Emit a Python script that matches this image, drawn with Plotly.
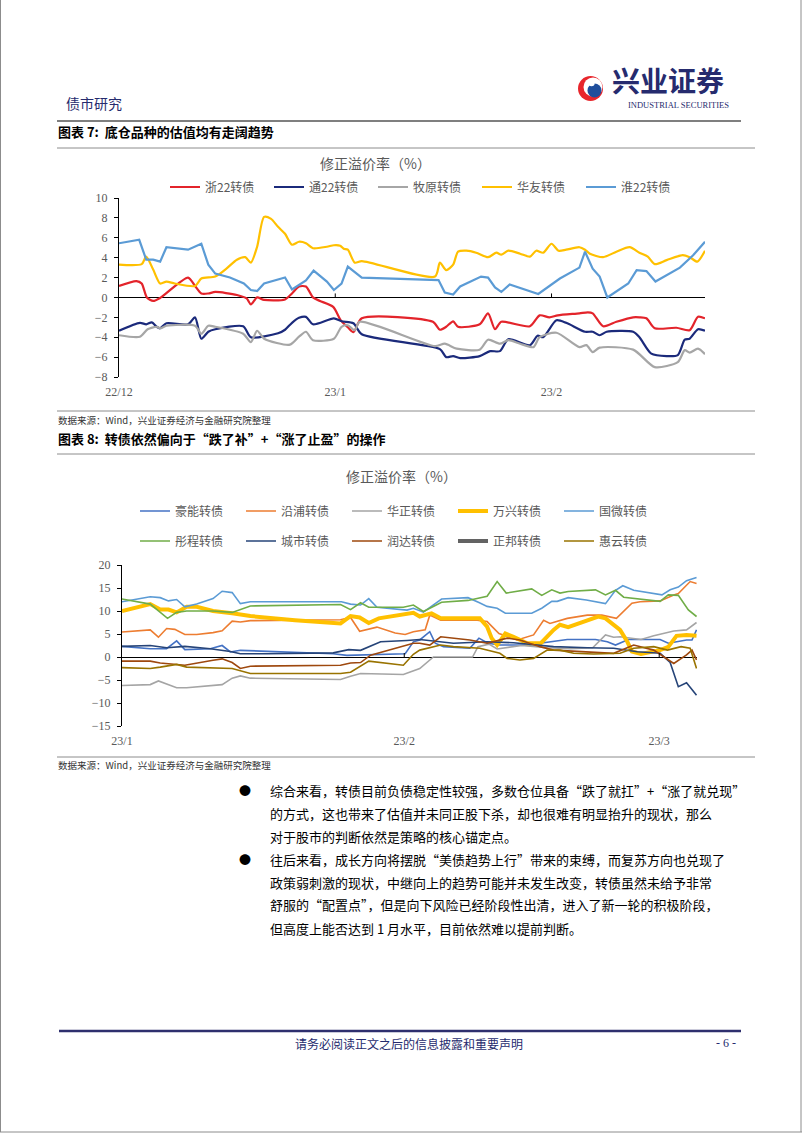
import pandas as pd
import plotly.graph_objects as go

W, H = 802, 1133
CJK = "Noto Sans CJK SC"
SERIF = "Liberation Serif"
GREY = "#595959"
NAVY = "#262B6E"


def X(px):
    return px / W


def Y(py):
    return 1 - py / H


# ---------------- Chart 7 data: days since 2022-12-01, 修正溢价率 (%) ----------------
c1_start = "2022-12-01"
c1_end_day = 84.0
c1_tickvals = ["2022-12-01", "2023-01-01", "2023-02-01"]
c1_ticktext = ["22/12", "23/1", "23/2"]
c1_names = ["浙22转债", "通22转债", "牧原转债", "华友转债", "淮22转债"]
c1_colors = ["#E3242B", "#1B2A7B", "#A6A6A6", "#FFC000", "#5B9BD5"]

zhe22_days = [0, 2.5, 3.25, 4.0, 4.9, 5.9, 9.9, 10.9, 11.8, 12.8, 13.8, 16.9, 18.3, 18.9, 19.8, 20.8, 23.8, 24.8,
              25.8, 26.8, 27.8, 28.8, 30.7, 31.8, 32.8, 33.6, 34.8, 45.0, 46.0, 46.9, 47.9, 48.6, 51.7, 52.9, 53.9,
              54.8, 58.9, 60.3, 61.7, 62.9, 66.0, 67.2, 67.9, 69.4, 71.3, 73.7, 74.6, 75.6, 76.8, 79.9, 81.8, 83.0, 84.0]
zhe22_vals = [1.15, 1.65, 1.4, 0.0, -0.35, -0.05, 2.0, 1.15, 0.4, 0.4, 0.55, 0.25, -0.1, -0.7, 0.0, -0.25, -0.2, 0.4,
              1.1, 1.1, 0.0, -0.35, -0.95, -2.3, -3.0, -3.5, -2.1, -2.45, -3.25, -2.95, -2.4, -2.95, -2.7, -1.6, -3.2,
              -2.45, -2.9, -1.8, -2.0, -1.8, -1.6, -1.5, -1.6, -2.9, -2.45, -2.0, -2.0, -2.1, -3.1, -3.05, -3.3, -1.95, -2.1]

tong22_days = [0, 3.0, 3.9, 4.7, 5.4, 5.9, 6.8, 9.9, 10.9, 11.8, 12.8, 13.8, 17.8, 18.9, 22.8, 23.8, 24.8, 25.8,
               26.8, 27.8, 30.8, 31.9, 33.6, 34.8, 46.0, 46.9, 47.9, 48.9, 51.7, 53.2, 54.6, 55.8, 58.9, 60.0, 60.8,
               62.7, 64.1, 66.8, 67.9, 68.9, 69.9, 73.7, 74.6, 76.3, 78.5, 80.1, 81.1, 81.8, 83.0, 84.0]
tong22_vals = [-3.35, -2.55, -2.7, -2.5, -2.95, -3.1, -2.6, -2.7, -2.0, -4.15, -3.45, -3.2, -2.9, -4.0, -3.6, -3.25,
               -2.55, -2.05, -1.95, -2.7, -2.1, -2.4, -2.6, -3.7, -5.2, -6.0, -5.9, -6.1, -5.9, -5.4, -5.4, -4.2, -4.8,
               -3.85, -4.0, -2.3, -2.55, -3.45, -3.45, -3.8, -3.45, -3.45, -4.0, -5.65, -5.9, -5.8, -4.25, -4.15, -3.2, -3.35]

muyuan_days = [0, 3.0, 4.1, 5.4, 5.9, 6.8, 10.9, 11.8, 12.8, 13.8, 17.8, 18.9, 19.8, 20.8, 24.5, 25.8, 26.8, 27.8,
               30.8, 31.9, 32.8, 33.8, 34.5, 45.3, 46.7, 48.4, 51.7, 52.9, 54.6, 55.8, 57.5, 59.4, 60.3, 62.7, 66.0,
               67.0, 67.9, 68.9, 73.7, 76.8, 80.1, 81.1, 81.8, 83.0, 84.0]
muyuan_vals = [-3.8, -3.95, -3.2, -2.95, -3.1, -2.85, -2.85, -3.65, -2.85, -2.95, -3.65, -4.5, -3.35, -4.15, -4.75,
               -3.95, -3.45, -4.3, -4.15, -2.95, -2.8, -3.3, -2.45, -4.9, -4.65, -5.15, -5.25, -4.25, -4.65, -4.3, -4.65,
               -5.0, -4.0, -3.55, -5.0, -4.8, -5.5, -5.05, -5.25, -7.0, -6.5, -5.3, -5.55, -5.15, -5.7]

huayou_days = [0, 3.25, 3.9, 4.9, 5.9, 6.8, 8.0, 10.9, 11.8, 13.8, 15.4, 16.9, 18.1, 18.9, 19.8, 20.8, 21.8, 22.8,
               23.8, 24.8, 25.8, 26.8, 27.8, 29.8, 30.8, 31.7, 32.2, 32.8, 33.8, 34.8, 45.3, 46.0, 46.9, 47.9, 48.6,
               49.8, 51.2, 52.9, 54.1, 54.8, 55.8, 57.5, 58.9, 59.8, 60.8, 62.0, 63.0, 64.1, 66.0, 66.8, 67.5, 69.4,
               71.3, 73.2, 74.6, 75.8, 76.8, 78.5, 80.8, 81.8, 82.9, 84.0]
huayou_vals = [3.3, 3.35, 4.1, 2.8, 1.4, 1.6, 1.4, 1.15, 1.9, 2.1, 2.9, 3.8, 4.05, 3.5, 5.1, 8.1, 7.9, 7.1, 6.4, 5.3,
               5.6, 5.45, 4.95, 5.1, 5.25, 5.2, 4.9, 4.8, 3.5, 3.65, 2.1, 3.5, 2.75, 3.3, 4.6, 4.7, 4.5, 4.05, 4.5, 4.3,
               4.7, 4.4, 4.1, 4.7, 4.5, 5.4, 4.7, 4.8, 5.05, 4.8, 4.4, 4.05, 4.6, 5.05, 4.5, 4.1, 3.35, 3.75, 4.25,
               4.05, 3.6, 4.7]

huai22_days = [0, 2.9, 3.9, 4.9, 5.9, 6.8, 9.9, 11.8, 12.8, 13.8, 15.9, 17.9, 18.9, 19.8, 20.8, 23.8, 24.8, 26.8,
               27.9, 29.8, 30.8, 31.9, 32.8, 34.8, 45.8, 46.7, 47.9, 48.9, 51.9, 52.9, 53.9, 54.8, 56.0, 59.6, 60.1,
               63.2, 66.0, 66.8, 67.9, 68.9, 70.0, 73.0, 74.2, 75.6, 76.9, 80.4, 82.3, 84.0]
huai22_vals = [5.45, 5.8, 3.8, 3.8, 3.6, 5.05, 4.8, 5.4, 3.3, 2.4, 2.0, 1.4, 0.75, 0.65, 1.4, 2.0, 0.8, 1.7, 2.7, 1.6,
               0.75, 1.4, 3.1, 2.0, 1.75, 0.5, 0.3, 1.1, 2.1, 2.0, 1.0, 0.55, 1.3, 0.4, 0.35, 1.9, 3.0, 4.6, 2.9, 2.1,
               0.0, 1.4, 2.75, 2.65, 1.6, 3.0, 4.25, 5.6]

c1_series = [(zhe22_days, zhe22_vals, "spline"), (tong22_days, tong22_vals, "spline"),
             (muyuan_days, muyuan_vals, "spline"), (huayou_days, huayou_vals, "spline"),
             (huai22_days, huai22_vals, "linear")]

# ---------------- Chart 8 data: days since 2023-01-01, 修正溢价率 (%) ----------------
c2_start = "2023-01-01"
c2_end_day = 63.15
c2_tickvals = ["2023-01-01", "2023-02-01", "2023-03-01"]
c2_ticktext = ["23/1", "23/2", "23/3"]
c2_names = ["豪能转债", "沿浦转债", "华正转债", "万兴转债", "国微转债",
            "彤程转债", "城市转债", "润达转债", "正邦转债", "惠云转债"]
c2_colors = ["#4472C4", "#ED7D31", "#A5A5A5", "#FFC000", "#5B9BD5",
             "#70AD47", "#264478", "#9E480E", "#636363", "#997300"]
c2_widths = [1.6, 1.6, 1.6, 4, 1.6, 1.6, 1.6, 1.6, 4, 1.6]

haoneng_days = [0, 3.1, 4.9, 6.0, 6.9, 9.7, 11.0, 11.9, 13.0, 15.9, 23.2, 24.7, 28.0, 31.1, 32.0, 32.7, 33.8, 34.4,
                35.3, 38.2, 39.2, 40.2, 41.5, 44.8, 46.3, 48.9, 52.0, 53.3, 54.2, 55.6, 59.1, 60.0, 62.0, 62.6, 63.1]
haoneng_vals = [2.3, 1.8, 1.8, 3.5, 1.6, 1.8, 2.5, 1.1, 1.45, 1.2, 0.7, 0.35, 0.6, 0.7, 3.3, 3.7, 5.5, 3.0, 2.25, 1.9,
                4.1, 3.0, 2.6, 2.6, 3.1, 3.8, 3.8, 3.3, 2.6, 3.8, 3.8, 3.0, 3.7, 3.7, 5.9]

yanpu_days = [0, 3.1, 4.0, 4.9, 5.8, 6.9, 8.2, 10.0, 11.0, 12.1, 13.0, 14.1, 24.0, 25.1, 26.1, 27.1, 28.0, 30.0, 31.1,
              32.0, 33.3, 33.8, 35.0, 39.0, 40.1, 41.4, 43.4, 45.2, 46.3, 47.0, 48.9, 51.1, 52.7, 54.3, 56.0, 56.9,
              59.1, 60.6, 61.1, 62.4, 63.1]
yanpu_vals = [5.45, 5.9, 4.3, 6.2, 6.0, 4.9, 4.9, 5.3, 5.7, 7.8, 7.6, 7.9, 8.1, 8.6, 5.6, 6.1, 6.5, 5.2, 4.9, 5.5, 5.9,
              9.1, 8.0, 8.0, 7.7, 5.1, 3.7, 4.8, 8.0, 7.3, 8.4, 9.1, 9.1, 8.4, 11.7, 12.0, 12.2, 13.5, 13.8, 16.4, 16.0]

huazheng_days = [0, 3.1, 4.0, 6.0, 7.1, 10.0, 11.0, 12.1, 13.0, 14.1, 24.0, 25.1, 26.2, 30.9, 32.0, 32.7, 34.2, 38.5,
                 39.1, 40.3, 41.2, 43.9, 46.7, 49.2, 51.7, 53.1, 54.0, 54.7, 57.0, 58.4, 60.6, 62.0, 63.1]
huazheng_vals = [-6.2, -6.0, -5.2, -6.7, -6.7, -6.2, -6.0, -4.6, -4.1, -4.6, -4.9, -4.2, -3.6, -3.8, -2.9, -2.5, 0.0,
                 0.0, 2.25, 2.8, 1.75, 2.5, 2.0, 1.8, 2.0, 4.8, 4.3, 4.4, 3.8, 4.6, 5.65, 5.9, 7.5]

wanxing_days = [0, 3.1, 4.2, 5.1, 6.0, 7.1, 8.2, 10.0, 12.1, 14.1, 19.0, 24.0, 25.1, 26.1, 27.1, 28.2, 32.0, 32.7,
                34.0, 35.0, 39.3, 40.1, 40.6, 41.2, 42.1, 43.0, 44.5, 46.0, 47.4, 48.1, 49.0, 52.3, 53.1, 54.7, 55.5,
                56.0, 57.0, 59.1, 60.0, 60.9, 62.0, 63.1]
wanxing_vals = [10.0, 11.5, 10.3, 10.3, 9.7, 10.9, 10.9, 10.0, 9.5, 8.9, 8.0, 7.3, 8.9, 8.6, 7.4, 8.4, 9.6, 8.8, 9.5,
                8.4, 8.4, 6.6, 4.1, 2.6, 5.1, 4.4, 3.0, 3.0, 5.9, 7.0, 6.5, 8.8, 8.4, 5.9, 3.3, 1.2, 0.65, 1.5, 2.2,
                4.6, 4.8, 4.6]

guowei_days = [0, 3.1, 4.2, 5.1, 6.0, 6.9, 8.2, 10.0, 11.0, 12.1, 13.0, 14.1, 24.1, 25.1, 26.2, 27.1, 28.0, 31.3,
               32.0, 33.1, 35.1, 38.0, 39.2, 40.1, 41.2, 42.1, 45.0, 46.1, 47.2, 47.8, 49.0, 51.0, 53.1, 54.2, 55.0,
               56.2, 59.3, 60.2, 61.1, 62.0, 63.1]
guowei_vals = [12.0, 13.1, 12.9, 12.2, 12.5, 10.9, 11.5, 12.7, 14.3, 14.0, 11.6, 12.0, 12.0, 11.5, 11.3, 12.7, 10.8,
               10.2, 10.6, 9.75, 12.6, 12.9, 11.85, 11.0, 10.6, 9.5, 9.5, 10.6, 12.1, 12.1, 12.9, 12.4, 11.6, 14.5,
               15.5, 14.5, 13.5, 14.6, 15.2, 16.6, 17.3]

tongcheng_days = [0, 3.1, 5.0, 6.0, 7.1, 10.0, 12.1, 14.1, 24.0, 25.1, 26.2, 27.1, 30.9, 32.0, 33.1, 35.1, 38.0,
                  40.1, 41.2, 42.2, 45.0, 46.1, 47.2, 48.1, 49.0, 52.0, 53.1, 54.2, 55.1, 59.1, 60.0, 61.1, 62.2, 63.1]
tongcheng_vals = [12.6, 11.5, 8.4, 9.7, 10.0, 10.0, 9.7, 11.1, 11.4, 10.3, 11.8, 10.8, 10.8, 11.3, 9.9, 11.9, 12.3,
                  13.2, 16.4, 13.9, 14.8, 13.4, 14.6, 13.9, 14.25, 14.6, 13.5, 14.5, 13.0, 12.1, 13.5, 13.4, 10.25, 8.8]

chengshi_days = [0, 3.1, 4.9, 6.9, 9.7, 11.9, 13.0, 15.9, 23.2, 24.9, 26.2, 28.4, 31.3, 32.7, 36.4, 40.1, 43.0, 47.4,
                 51.1, 54.0, 56.6, 59.1, 60.2, 61.1, 62.0, 63.1]
chengshi_vals = [2.3, 2.5, 2.0, 2.3, 1.8, 1.2, 0.7, 0.7, 0.9, 1.6, 1.45, 3.3, 3.6, 3.8, 3.0, 3.3, 3.1, 2.25, 2.0, 1.9,
                 1.15, 0.8, -1.2, -6.45, -5.6, -8.3]

runda_days = [0, 3.1, 4.2, 6.9, 10.0, 11.0, 12.1, 13.0, 14.1, 24.0, 25.1, 26.2, 27.3, 32.0, 32.7, 33.8, 35.0, 38.2,
              40.1, 42.3, 43.7, 45.9, 47.4, 50.3, 54.0, 56.2, 58.4, 60.6, 62.0, 62.6, 63.1]
runda_vals = [-0.9, -0.9, -1.3, -1.8, -0.7, -0.4, -1.2, -2.5, -2.0, -1.8, -1.3, -1.2, 0.4, 3.0, 3.0, 2.6, 4.4, 3.7,
              3.0, 4.1, 3.7, 2.25, 1.5, 1.15, 0.8, 2.6, 1.5, -1.4, 0.45, 1.5, -0.65]

# 正邦转债: no line visible in the picture (legend entry only)
zhengbang_days = []
zhengbang_vals = []

huiyun_days = [0, 3.1, 4.2, 6.0, 7.1, 10.0, 12.1, 14.1, 24.0, 25.1, 27.1, 30.9, 32.0, 32.7, 35.0, 36.4, 39.3, 41.5,
               42.3, 43.7, 45.2, 46.7, 48.1, 49.6, 51.8, 54.7, 56.2, 58.4, 59.9, 61.4, 62.4, 63.1]
huiyun_vals = [-2.3, -2.5, -2.2, -1.6, -2.2, -2.3, -2.5, -3.6, -3.6, -3.3, -0.9, -1.8, 0.6, 1.5, 2.6, 2.25, 1.9, 0.8,
               -0.3, -0.65, -0.3, 1.5, 1.5, 0.8, 0.65, 0.8, 1.9, 2.25, 1.5, 2.25, 1.9, -2.5]

c2_series = [(haoneng_days, haoneng_vals), (yanpu_days, yanpu_vals), (huazheng_days, huazheng_vals),
             (wanxing_days, wanxing_vals), (guowei_days, guowei_vals), (tongcheng_days, tongcheng_vals),
             (chengshi_days, chengshi_vals), (runda_days, runda_vals), (zhengbang_days, zhengbang_vals),
             (huiyun_days, huiyun_vals)]

for d, v, *_ in c1_series + c2_series:
    assert len(d) == len(v), (len(d), len(v))


def to_dates(start, days):
    return [str(pd.Timestamp(start) + pd.Timedelta(days=float(x))) for x in days]


fig = go.Figure()

for (days, vals, shape), name, color in zip(c1_series, c1_names, c1_colors):
    fig.add_trace(go.Scatter(
        x=to_dates(c1_start, days), y=vals, name=name, mode="lines",
        line=dict(color=color, width=2.2, shape=shape, smoothing=0.7),
        xaxis="x", yaxis="y", legend="legend", hoverinfo="skip"))

for i, ((days, vals), name, color, wd) in enumerate(zip(c2_series, c2_names, c2_colors, c2_widths)):
    xs = to_dates(c2_start, days) if days else [None]
    ys = vals if vals else [None]
    fig.add_trace(go.Scatter(
        x=xs, y=ys, name=name, mode="lines", showlegend=True,
        line=dict(color=color, width=wd),
        xaxis="x2", yaxis="y2", legend="legend2" if i < 5 else "legend3", hoverinfo="skip"))

tickfont = dict(family=SERIF, size=12, color=GREY)
xcommon = dict(tickmode="array", showline=False, showgrid=False, zeroline=False, ticks="outside",
               ticklen=4, tickcolor="rgba(0,0,0,0)", tickfont=tickfont, fixedrange=True, automargin=False)
ycommon = dict(showline=True, linecolor="black", linewidth=1, ticks="outside", ticklen=4, tickcolor="black",
               tickfont=tickfont, showgrid=False, zeroline=True, zerolinecolor="black", zerolinewidth=1,
               fixedrange=True, automargin=False, ticklabelstandoff=4)

legend_common = dict(orientation="h", xanchor="left", yanchor="middle", bgcolor="rgba(0,0,0,0)",
                     font=dict(family=CJK, size=12, color=GREY), entrywidthmode="pixels", itemclick=False,
                     itemdoubleclick=False, traceorder="normal")

fig.update_layout(
    width=W, height=H, autosize=False, margin=dict(l=0, r=0, t=0, b=0),
    paper_bgcolor="white", plot_bgcolor="white", showlegend=True,
    xaxis=dict(domain=[X(119), X(705)], anchor="y",
               range=[c1_start, to_dates(c1_start, [c1_end_day])[0]],
               tickvals=c1_tickvals, ticktext=c1_ticktext, **xcommon),
    yaxis=dict(domain=[Y(377), Y(198)], anchor="x", range=[-8, 10], dtick=2, tick0=0, **ycommon),
    xaxis2=dict(domain=[X(122), X(697)], anchor="y2",
                range=[c2_start, to_dates(c2_start, [c2_end_day])[0]],
                tickvals=c2_tickvals, ticktext=c2_ticktext, **xcommon),
    yaxis2=dict(domain=[Y(726), Y(565)], anchor="x2", range=[-15, 20], dtick=5, tick0=0, **ycommon),
    legend=dict(x=X(165), y=Y(187), entrywidth=59, **legend_common),
    legend2=dict(x=X(135), y=Y(511), entrywidth=61, **legend_common),
    legend3=dict(x=X(135), y=Y(541), entrywidth=61, **legend_common),
)

shapes = []


def hline(y, x0, x1, color, width):
    shapes.append(dict(type="line", xref="paper", yref="paper", x0=X(x0), x1=X(x1), y0=Y(y), y1=Y(y),
                       line=dict(color=color, width=width)))


def vline(x, y0, y1, color, width):
    shapes.append(dict(type="line", xref="paper", yref="paper", x0=X(x), x1=X(x), y0=Y(y0), y1=Y(y1),
                       line=dict(color=color, width=width)))


# page frame
vline(0.5, 0, 1132, "#8C8C8C", 1)
vline(801, 0, 1132, "#8C8C8C", 1)
hline(1132, 0, 802, "#8C8C8C", 1)
# header / section rules
hline(121, 57, 741, "#555555", 1.5)
hline(148, 57, 755, "#8C8C8C", 1)
hline(411, 57, 755, "#8C8C8C", 1)
hline(454, 57, 755, "#8C8C8C", 1)
hline(757, 57, 755, "#8C8C8C", 1)
hline(1031, 59, 741, "#2E2F6E", 2.5)

# axis tick marks on the zero line (upward)
for tv in c1_tickvals[1:]:
    shapes.append(dict(type="line", xref="x", yref="y", x0=tv, x1=tv, ysizemode="pixel", yanchor=0,
                       y0=0, y1=4, line=dict(color="black", width=1)))
for tv in c2_tickvals[1:]:
    shapes.append(dict(type="line", xref="x2", yref="y2", x0=tv, x1=tv, ysizemode="pixel", yanchor=0,
                       y0=0, y1=4, line=dict(color="black", width=1)))


def circle(cx, cy, r, color):
    shapes.append(dict(type="circle", xref="paper", yref="paper", x0=X(cx - r), x1=X(cx + r),
                       y0=Y(cy + r), y1=Y(cy - r), fillcolor=color, line=dict(width=0)))


# logo (approximation of the swirl mark)
circle(590.5, 88.5, 12.5, "#E8262C")
circle(593.0, 87.0, 9.5, "white")
circle(594.5, 90.5, 7.0, "#1F4E9C")
circle(591.5, 83.0, 3.2, "white")

fig.update_layout(shapes=shapes)

annotations = []


def txt(x, y, text, size, color="black", family=CJK, anchor="left", weight="normal"):
    annotations.append(dict(x=X(x), y=Y(y), xref="paper", yref="paper", text=text, showarrow=False,
                            xanchor=anchor, yanchor="middle",
                            font=dict(family=family, size=size, color=color, weight=weight)))


txt(64, 103, "债市研究", 14, NAVY)
txt(610, 80, "兴业证券", 28, NAVY, weight="bold")
txt(678, 105, "INDUSTRIAL SECURITIES", 8.5, NAVY, family=SERIF, anchor="center")
txt(56, 132, "图表 7:  底仓品种的估值均有走阔趋势", 13, "black", weight="bold")
txt(375, 163, "修正溢价率（%）", 14, GREY, anchor="center")
txt(56, 420, "数据来源：Wind，兴业证券经济与金融研究院整理", 9.5, "#333333")
txt(56, 438, "图表 8:  转债依然偏向于“跌了补”+“涨了止盈”的操作", 13, "black", weight="bold")
txt(401, 476, "修正溢价率（%）", 14, GREY, anchor="center")
txt(56, 765, "数据来源：Wind，兴业证券经济与金融研究院整理", 9.5, "#333333")

body_lines = [
    "综合来看，转债目前负债稳定性较强，多数仓位具备“跌了就扛”+“涨了就兑现”",
    "的方式，这也带来了估值并未同正股下杀，却也很难有明显抬升的现状，那么",
    "对于股市的判断依然是策略的核心锚定点。",
    "往后来看，成长方向将摆脱“美债趋势上行”带来的束缚，而复苏方向也兑现了",
    "政策弱刺激的现状，中继向上的趋势可能并未发生改变，转债虽然未给予非常",
    "舒服的“配置点”，但是向下风险已经阶段性出清，进入了新一轮的积极阶段，",
    "但高度上能否达到 1 月水平，目前依然难以提前判断。",
]
for i, line in enumerate(body_lines):
    txt(268, 790 + 23 * i, line, 13, "black")
txt(245, 790, "●", 12, "black", anchor="center")
txt(245, 859, "●", 12, "black", anchor="center")

txt(409, 1043, "请务必阅读正文之后的信息披露和重要声明", 12, NAVY, anchor="center")
txt(726, 1043, "- 6 -", 12, NAVY, family=SERIF, anchor="center")

fig.update_layout(annotations=annotations)

fig.write_html("out.html", config={"displayModeBar": False},
               post_script="document.body.style.margin='0';document.body.style.overflow='hidden';")
